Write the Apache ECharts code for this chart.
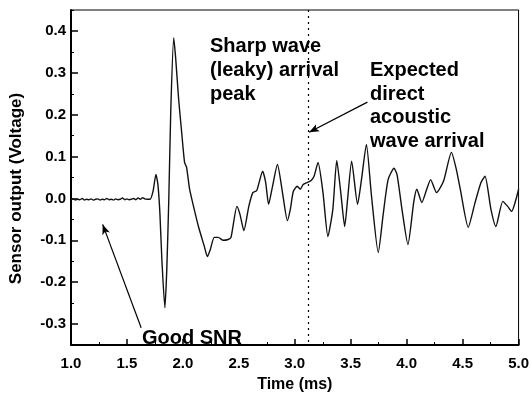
<!DOCTYPE html>
<html>
<head>
<meta charset="utf-8">
<script src="https://cdn.jsdelivr.net/npm/echarts@6/dist/echarts.min.js"></script>
<style>
  html, body { margin: 0; padding: 0; background: #fff; }
  #chart { width: 532px; height: 398px; }
</style>
</head>
<body>
<div id="chart"></div>
<script>
// waveform: time (ms) and sensor output (V)
var timeMs = [
    1.00, 1.02, 1.04, 1.06, 1.08, 1.10, 1.12, 1.14, 1.16, 1.18,
    1.20, 1.22, 1.24, 1.26, 1.28, 1.30, 1.32, 1.34, 1.36, 1.38,
    1.40, 1.42, 1.44, 1.46, 1.48, 1.50, 1.52, 1.54, 1.56, 1.58,
    1.60, 1.62, 1.64, 1.66, 1.68, 1.706,
    1.733, 1.759, 1.777, 1.795, 1.812, 1.839, 1.856, 1.874, 1.892, 1.918,
    1.936, 1.962, 1.989, 2.015, 2.033, 2.060, 2.095, 2.139, 2.192, 2.219,
    2.245, 2.280, 2.316, 2.360, 2.404, 2.430, 2.483, 2.510, 2.545, 2.589,
    2.625, 2.660, 2.713, 2.740, 2.766, 2.801, 2.845, 2.890, 2.934, 2.960,
    2.987, 3.022, 3.049, 3.075, 3.110, 3.146, 3.172, 3.208, 3.252, 3.296,
    3.340, 3.375, 3.411, 3.446, 3.472, 3.508, 3.561, 3.596, 3.640, 3.684,
    3.746, 3.790, 3.834, 3.887, 3.914, 3.958, 4.011, 4.064, 4.091, 4.135,
    4.179, 4.214, 4.267, 4.329, 4.400, 4.444, 4.479, 4.550, 4.611, 4.664,
    4.700, 4.753, 4.797, 4.859, 4.903, 4.938, 4.974, 5.000
];
var voltage = [
    -0.003, -0.001, -0.004, -0.002, -0.003, 0.000, -0.004, -0.002, -0.003, -0.001,
    -0.004, -0.002, -0.001, -0.004, -0.002, -0.003, 0.000, -0.003, -0.002, -0.004,
    -0.001, -0.003, -0.002, 0.001, -0.003, -0.001, -0.003, -0.002, 0.000, -0.003,
    0.001, -0.002, 0.002, -0.001, -0.002, -0.002,
    0.017, 0.057, 0.033, -0.038, -0.146, -0.261, -0.170, -0.002, 0.213, 0.383,
    0.333, 0.237, 0.158, 0.086, 0.074, 0.022, -0.019, -0.067, -0.115, -0.139,
    -0.122, -0.093, -0.093, -0.100, -0.098, -0.093, -0.019, -0.038, -0.077, -0.019,
    0.014, 0.019, 0.065, 0.038, -0.014, 0.029, 0.081, 0.014, -0.053, -0.026,
    0.017, 0.029, 0.022, 0.033, 0.038, 0.043, 0.053, 0.086, 0.014, -0.091,
    -0.026, 0.091, 0.014, -0.067, -0.002, 0.089, -0.014, 0.045, 0.129, 0.010,
    -0.129, -0.038, 0.045, 0.072, 0.057, -0.026, -0.110, -0.007, 0.022, -0.010,
    0.022, 0.045, 0.014, 0.041, 0.110, 0.069, 0.022, -0.069, -0.010, 0.038,
    0.053, -0.026, -0.067, -0.007, -0.019, -0.031, -0.005, 0.022
];
var yTickLabels = [-0.3, -0.2, -0.1, 0.0, 0.1, 0.2, 0.3, 0.4];
var expectedArrivalMs = 3.12;
// arrow start / tip in data units
var snrArrow = [[1.627, -0.309], [1.283, -0.062]];
var directArrow = [[3.649, 0.230], [3.128, 0.158]];

var chart = echarts.init(document.getElementById('chart'));
var font = 'Liberation Sans, Arial, sans-serif';
var points = timeMs.map(function (t, i) { return [t, voltage[i]]; });

var option = {
    backgroundColor: '#fff',
    animation: false,
    grid: {
        left: 68, right: 11, top: 10, bottom: 53,
        show: true, borderColor: '#000', borderWidth: 1
    },
    xAxis: {
        type: 'value',
        min: 1, max: 5, interval: 0.5,
        name: 'Time (ms)',
        nameLocation: 'middle',
        nameGap: 32,
        nameTextStyle: { fontFamily: font, fontWeight: 'bold', fontSize: 16, color: '#000' },
        axisLine: { onZero: false, lineStyle: { color: '#000', width: 2 } },
        axisTick: { inside: true, length: 6, lineStyle: { color: '#000', width: 1.5 } },
        minorTick: { show: true, splitNumber: 2, length: 3, lineStyle: { color: '#000' } },
        splitLine: { show: false },
        axisLabel: {
            margin: 11,
            fontFamily: font, fontWeight: 'bold', fontSize: 15, color: '#000',
            formatter: function (v) { return v.toFixed(1); }
        }
    },
    yAxis: [{
        type: 'value',
        min: -0.35, max: 0.45,
        name: 'Sensor output (Voltage)',
        nameLocation: 'middle',
        nameGap: 46,
        nameTextStyle: { fontFamily: font, fontWeight: 'bold', fontSize: 17, color: '#000', padding: [0, 22, 0, 0] },
        axisLine: { onZero: false, lineStyle: { color: '#000', width: 2 } },
        axisTick: { inside: true, length: 7, customValues: yTickLabels, lineStyle: { color: '#000', width: 1.5 } },
        splitLine: { show: false },
        axisLabel: {
            customValues: yTickLabels,
            margin: 5,
            fontFamily: font, fontWeight: 'bold', fontSize: 15, color: '#000',
            formatter: function (v) { return v.toFixed(1); }
        }
    }, {
        // half-step ticks
        type: 'value',
        position: 'left',
        min: -0.35, max: 0.45, interval: 0.1,
        axisLine: { show: false, onZero: false },
        axisTick: { inside: true, length: 3, lineStyle: { color: '#000' } },
        axisLabel: { show: false },
        splitLine: { show: false }
    }],
    series: [{
        type: 'line',
        data: points,
        showSymbol: false,
        smooth: 0.2,
        lineStyle: { color: '#111', width: 1.4 },
        markLine: {
            silent: true,
            animation: false,
            label: { show: false },
            data: [
                [{ xAxis: expectedArrivalMs, yAxis: 0.45, symbol: 'none' },
                 { xAxis: expectedArrivalMs, yAxis: -0.35, symbol: 'none',
                   lineStyle: { color: '#000', type: [2, 4], width: 1.2 } }],
                [{ coord: snrArrow[0], symbol: 'none' },
                 { coord: snrArrow[1], symbol: 'arrow', symbolSize: [6, 10],
                   lineStyle: { color: '#000', type: 'solid', width: 1.2 } }],
                [{ coord: directArrow[0], symbol: 'none' },
                 { coord: directArrow[1], symbol: 'arrow', symbolSize: [6, 10],
                   lineStyle: { color: '#000', type: 'solid', width: 1.2 } }]
            ]
        }
    }],
    graphic: [{
        type: 'text', left: 210, top: 34,
        style: { text: 'Sharp wave\n(leaky) arrival\npeak', font: 'bold 20px ' + font, fill: '#000', lineHeight: 24 }
    }, {
        type: 'text', left: 370, top: 59,
        style: { text: 'Expected\ndirect\nacoustic\nwave arrival', font: 'bold 20px ' + font, fill: '#000', lineHeight: 23.5 }
    }, {
        type: 'text', left: 142, top: 326,
        style: { text: 'Good SNR', font: 'bold 20px ' + font, fill: '#000', lineHeight: 24 }
    }]
};
chart.setOption(option);
</script>
</body>
</html>
